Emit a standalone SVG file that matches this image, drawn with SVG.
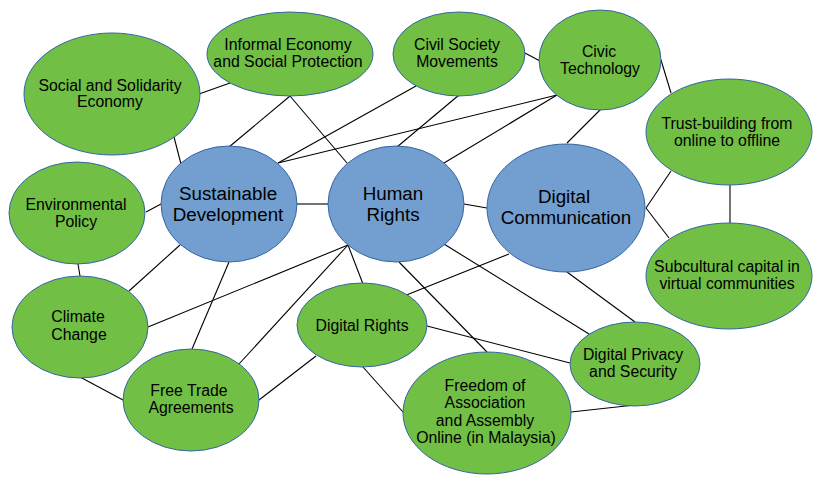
<svg xmlns="http://www.w3.org/2000/svg" width="819" height="479" viewBox="0 0 819 479">
<style>
.g{fill:#71bf44;stroke:#3465a4;stroke-width:1}
.b{fill:#729fcf;stroke:#3465a4;stroke-width:1}
.e line{stroke:#000;stroke-width:1.1}
text{font-family:"Liberation Sans",Arial,sans-serif;fill:#000;text-anchor:middle}
.t{font-size:15.8px}
.tb{font-size:18.8px}
</style>
<rect width="819" height="479" fill="#fff"/>
<g id="connectors" class="e">
<line x1="199" y1="94" x2="230" y2="83"/>
<line x1="174" y1="137" x2="181" y2="164"/>
<line x1="290" y1="96" x2="229" y2="147"/>
<line x1="290" y1="96" x2="347" y2="163"/>
<line x1="278" y1="163" x2="416" y2="86"/>
<line x1="278" y1="163" x2="557" y2="95"/>
<line x1="444" y1="163" x2="557" y2="95"/>
<line x1="459" y1="95" x2="397" y2="147"/>
<line x1="525" y1="53" x2="540" y2="61"/>
<line x1="601" y1="109" x2="567" y2="143"/>
<line x1="661" y1="60" x2="671" y2="93"/>
<line x1="671" y1="171" x2="646" y2="208"/>
<line x1="646" y1="208" x2="669" y2="238"/>
<line x1="730" y1="185" x2="730" y2="223"/>
<line x1="464" y1="204" x2="487" y2="208"/>
<line x1="297" y1="204" x2="328" y2="204"/>
<line x1="146" y1="212" x2="161" y2="204"/>
<line x1="78" y1="264" x2="80" y2="276"/>
<line x1="129" y1="291" x2="180" y2="245"/>
<line x1="148" y1="327" x2="348" y2="245"/>
<line x1="192" y1="349" x2="229" y2="262"/>
<line x1="239" y1="364" x2="348" y2="245"/>
<line x1="80" y1="377" x2="123" y2="400"/>
<line x1="259" y1="400" x2="316" y2="356"/>
<line x1="348" y1="245" x2="363" y2="284"/>
<line x1="363" y1="367" x2="403" y2="412"/>
<line x1="404" y1="296" x2="509" y2="254"/>
<line x1="427" y1="326" x2="570" y2="363"/>
<line x1="444" y1="244" x2="589" y2="334"/>
<line x1="399" y1="262" x2="487" y2="352"/>
<line x1="567" y1="272" x2="635" y2="322"/>
<line x1="571" y1="412" x2="635" y2="405"/>
</g>
<g id="social-solidarity"><ellipse class="g" cx="112" cy="94" rx="88" ry="61"/><text class="t" x="110" y="91">Social and Solidarity</text><text class="t" x="110" y="107">Economy</text></g>
<g id="informal-economy"><ellipse class="g" cx="290" cy="54" rx="83" ry="42"/><text class="t" x="288" y="50">Informal Economy</text><text class="t" x="288" y="67">and Social Protection</text></g>
<g id="civil-society"><ellipse class="g" cx="459" cy="54" rx="66" ry="42"/><text class="t" x="457" y="50">Civil Society</text><text class="t" x="457" y="67">Movements</text></g>
<g id="civic-technology"><ellipse class="g" cx="600" cy="60" rx="61" ry="50"/><text class="t" x="599" y="57">Civic</text><text class="t" x="600" y="74">Technology</text></g>
<g id="trust-building"><ellipse class="g" cx="729" cy="132" rx="83" ry="53"/><text class="t" x="727" y="129">Trust-building from</text><text class="t" x="727" y="146">online to offline</text></g>
<g id="sustainable-development"><ellipse class="b" cx="229" cy="204" rx="68" ry="58"/><text class="tb" x="228" y="200">Sustainable</text><text class="tb" x="228" y="221">Development</text></g>
<g id="human-rights"><ellipse class="b" cx="396" cy="204" rx="68" ry="58"/><text class="tb" x="393" y="200">Human</text><text class="tb" x="393" y="221">Rights</text></g>
<g id="digital-communication"><ellipse class="b" cx="566" cy="208" rx="79" ry="64"/><text class="tb" x="564" y="203">Digital</text><text class="tb" x="566" y="224">Communication</text></g>
<g id="environmental-policy"><ellipse class="g" cx="77" cy="213" rx="68" ry="51"/><text class="t" x="76" y="210">Environmental</text><text class="t" x="76" y="227">Policy</text></g>
<g id="subcultural-capital"><ellipse class="g" cx="729" cy="276" rx="83" ry="53"/><text class="t" x="727" y="272">Subcultural capital in</text><text class="t" x="727" y="289">virtual communities</text></g>
<g id="climate-change"><ellipse class="g" cx="80" cy="327" rx="68" ry="51"/><text class="t" x="78" y="322">Climate</text><text class="t" x="79" y="340">Change</text></g>
<g id="free-trade"><ellipse class="g" cx="191" cy="400" rx="68" ry="51"/><text class="t" x="189" y="396">Free Trade</text><text class="t" x="191" y="413">Agreements</text></g>
<g id="digital-rights"><ellipse class="g" cx="362" cy="325" rx="65" ry="42"/><text class="t" x="362" y="331">Digital Rights</text></g>
<g id="digital-privacy"><ellipse class="g" cx="635" cy="364" rx="65" ry="42"/><text class="t" x="633" y="360">Digital Privacy</text><text class="t" x="633" y="377">and Security</text></g>
<g id="freedom-association"><ellipse class="g" cx="487" cy="413" rx="84" ry="61"/><text class="t" x="485" y="391">Freedom of</text><text class="t" x="485" y="408">Association</text><text class="t" x="485" y="426">and Assembly</text><text class="t" x="486" y="443">Online (in Malaysia)</text></g>
</svg>
